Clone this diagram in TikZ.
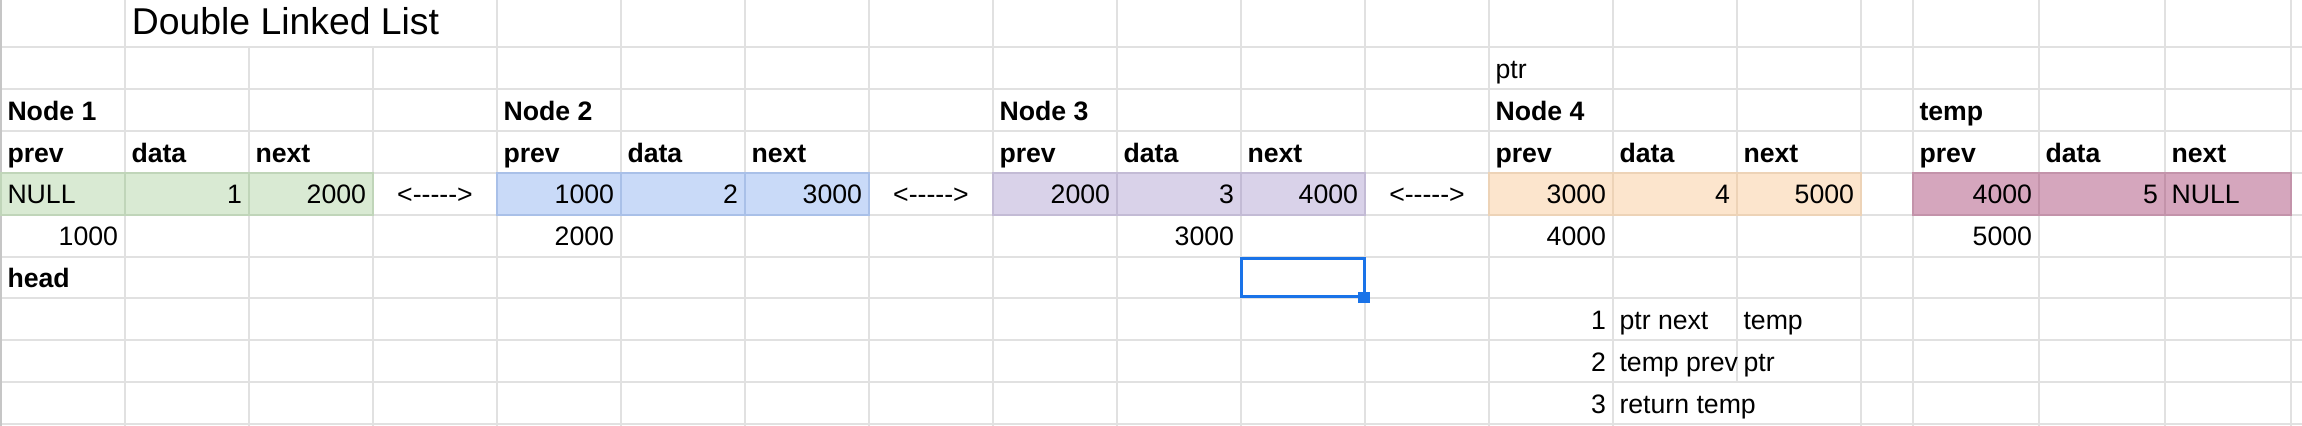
\documentclass[tikz,border=0pt]{standalone}
\usepackage{fontspec}
\setmainfont{Liberation Sans}
\newcommand{\cellfont}{\fontsize{13.33pt}{16pt}\selectfont}
\newcommand{\titlefont}{\fontsize{18.67pt}{22pt}\selectfont}
\newcommand{\dblarrow}{<{-}{-}{-}{-}{-}>}
\definecolor{gridgray}{HTML}{E1E1E1}
\definecolor{edgegray}{HTML}{C6C6C6}
\definecolor{gfill}{HTML}{D9EAD3}\definecolor{gedge}{HTML}{C0D5B9}
\definecolor{bfill}{HTML}{C9DAF8}\definecolor{bedge}{HTML}{A9C0E8}
\definecolor{pfill}{HTML}{D9D2E9}\definecolor{pedge}{HTML}{C3BBD5}
\definecolor{ofill}{HTML}{FCE5CD}\definecolor{oedge}{HTML}{EDD3B7}
\definecolor{mfill}{HTML}{D5A6BD}\definecolor{medge}{HTML}{C393AA}
\definecolor{selblue}{HTML}{1A73E8}
\tikzset{
  gline/.style={draw=gridgray, line width=1pt},
  txt/.style={inner sep=0pt, outer sep=0pt, font=\cellfont, text=black},
  lt/.style={txt, anchor=base west},
  rt/.style={txt, anchor=base east},
  ct/.style={txt, anchor=base},
  bf/.style={font=\cellfont\bfseries},
  ttl/.style={inner sep=0pt, anchor=base west, font=\titlefont, text=black},
}
\begin{document}
\begin{tikzpicture}[x=0.5pt, y=-0.5pt]
\useasboundingbox (0,0) rectangle (2302,426);
\fill[white] (0,0) rectangle (2302,426);
% cell fills
\fill[gfill] (1,173) rectangle (373,214.7);
\fill[bfill] (497,173) rectangle (869,214.7);
\fill[pfill] (993,173) rectangle (1365,214.7);
\fill[ofill] (1489,173) rectangle (1861,214.7);
\fill[mfill] (1913,173) rectangle (2291,214.7);
% horizontal grid lines
\foreach \y in {47,89,131,173,214.7,256.7,298.5,340.5,382.5,424.5}
  \draw[gline] (0,\y) -- (2302,\y);
% vertical grid lines
\foreach \x in {125,497,621,745,869,993,1117,1241,1365,1489,1613,1861,1913,2039,2165,2291}
  \draw[gline] (\x,0) -- (\x,426);
\draw[gline] (249,47) -- (249,426);
\draw[gline] (373,47) -- (373,426);
\draw[gline] (1737,0) -- (1737,382.5);
\draw[draw=edgegray, line width=1pt] (1,0) -- (1,426);
% coloured cell borders
\draw[gedge, line width=1pt] (1,173) rectangle (373,214.7) (125,173) -- (125,214.7) (249,173) -- (249,214.7);
\draw[bedge, line width=1pt] (497,173) rectangle (869,214.7) (621,173) -- (621,214.7) (745,173) -- (745,214.7);
\draw[pedge, line width=1pt] (993,173) rectangle (1365,214.7) (1117,173) -- (1117,214.7) (1241,173) -- (1241,214.7);
\draw[oedge, line width=1pt] (1489,173) rectangle (1861,214.7) (1613,173) -- (1613,214.7) (1737,173) -- (1737,214.7);
\draw[medge, line width=1pt] (1913,173) rectangle (2291,214.7) (2039,173) -- (2039,214.7) (2165,173) -- (2165,214.7);
% title and labels
\node[ttl] (title) at (131.5,35) {Double Linked List};
\node[lt] (ptrlbl) at (1495.5,78.2) {ptr};
\node[lt,bf] (n1) at (7.5,120.2) {Node 1};
\node[lt,bf] (n2) at (503.5,120.2) {Node 2};
\node[lt,bf] (n3) at (999.5,120.2) {Node 3};
\node[lt,bf] (n4) at (1495.5,120.2) {Node 4};
\node[lt,bf] (n5) at (1919.5,120.2) {temp};
% field headers
\node[lt,bf] (h1p) at (7.5,162.2) {prev};
\node[lt,bf] (h1d) at (131.5,162.2) {data};
\node[lt,bf] (h1n) at (255.5,162.2) {next};
\node[lt,bf] (h2p) at (503.5,162.2) {prev};
\node[lt,bf] (h2d) at (627.5,162.2) {data};
\node[lt,bf] (h2n) at (751.5,162.2) {next};
\node[lt,bf] (h3p) at (999.5,162.2) {prev};
\node[lt,bf] (h3d) at (1123.5,162.2) {data};
\node[lt,bf] (h3n) at (1247.5,162.2) {next};
\node[lt,bf] (h4p) at (1495.5,162.2) {prev};
\node[lt,bf] (h4d) at (1619.5,162.2) {data};
\node[lt,bf] (h4n) at (1743.5,162.2) {next};
\node[lt,bf] (h5p) at (1919.5,162.2) {prev};
\node[lt,bf] (h5d) at (2045.5,162.2) {data};
\node[lt,bf] (h5n) at (2171.5,162.2) {next};
% values
\node[lt] (v1p) at (7.5,203.9) {NULL};
\node[rt] (v1d) at (242,203.9) {1};
\node[rt] (v1n) at (366,203.9) {2000};
\node[ct] (a1) at (435,203.9) {\dblarrow};
\node[rt] (v2p) at (614,203.9) {1000};
\node[rt] (v2d) at (738,203.9) {2};
\node[rt] (v2n) at (862,203.9) {3000};
\node[ct] (a2) at (931,203.9) {\dblarrow};
\node[rt] (v3p) at (1110,203.9) {2000};
\node[rt] (v3d) at (1234,203.9) {3};
\node[rt] (v3n) at (1358,203.9) {4000};
\node[ct] (a3) at (1427,203.9) {\dblarrow};
\node[rt] (v4p) at (1606,203.9) {3000};
\node[rt] (v4d) at (1730,203.9) {4};
\node[rt] (v4n) at (1854,203.9) {5000};
\node[rt] (v5p) at (2032,203.9) {4000};
\node[rt] (v5d) at (2158,203.9) {5};
\node[lt] (v5n) at (2171.5,203.9) {NULL};
% addresses
\node[rt] (ad1) at (118,245.9) {1000};
\node[rt] (ad2) at (614,245.9) {2000};
\node[rt] (ad3) at (1234,245.9) {3000};
\node[rt] (ad4) at (1606,245.9) {4000};
\node[rt] (ad5) at (2032,245.9) {5000};
\node[lt,bf] (head) at (7.5,287.7) {head};
% steps
\node[rt] (s1) at (1606,329.7) {1};
\node[lt] (s1a) at (1619.5,329.7) {ptr next};
\node[lt] (s1b) at (1743.5,329.7) {temp};
\node[rt] (s2) at (1606,371.7) {2};
\begin{scope}
  \clip (1613,340.5) rectangle (1737,382.5);
  \node[lt] (s2a) at (1619.5,371.7) {temp prev};
\end{scope}
\node[lt] (s2b) at (1743.5,371.7) {ptr};
\node[rt] (s3) at (1606,413.7) {3};
\node[lt] (s3a) at (1619.5,413.7) {return temp};
% selection
\draw[selblue, line width=1.5pt] (1241.5,258.3) rectangle (1364,296.7);
\fill[selblue] (1358.3,291.7) rectangle (1370,303.3);
\end{tikzpicture}
\end{document}
